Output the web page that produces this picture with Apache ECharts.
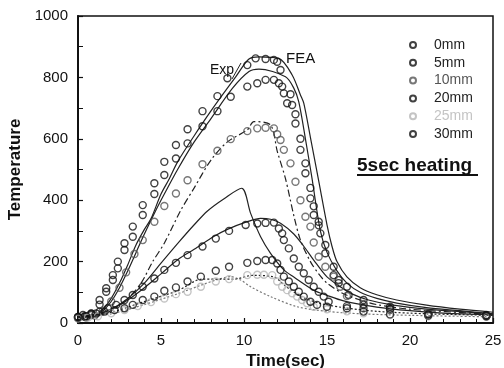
<!DOCTYPE html>
<html>
<head>
<meta charset="utf-8">
<script src="https://cdn.jsdelivr.net/npm/echarts@6/dist/echarts.min.js"></script>
<style>
  html, body { margin: 0; padding: 0; background: #fff; }
  #chart { width: 504px; height: 368px; }
</style>
</head>
<body>
<div id="chart"></div>
<script>
// measured points, [time (sec), temperature]
const exp0mm = [[0, 20], [0.4, 22], [0.8, 30], [1.3, 75], [1.7, 113], [2.1, 156], [2.4, 200], [2.8, 260], [3.3, 314], [3.9, 384], [4.6, 455], [5.2, 525], [5.9, 580], [6.6, 631], [7.5, 690], [8.4, 739], [9.0, 797], [10.2, 840], [10.7, 862], [11.3, 860], [11.8, 857], [12.0, 851], [12.2, 824], [12.8, 745], [13.1, 680], [13.4, 600], [13.7, 520], [14.0, 440], [14.2, 380], [14.5, 330], [14.9, 254], [15.4, 183], [15.7, 140], [16.2, 118], [17.2, 75], [18.8, 53], [21.1, 30], [24.6, 26]]
const exp5mm = [[0, 18], [0.4, 20], [0.8, 26], [1.3, 60], [1.7, 102], [2.1, 140], [2.4, 178], [2.8, 238], [3.3, 281], [3.9, 352], [4.6, 420], [5.2, 482], [5.9, 536], [6.6, 585], [7.5, 641], [8.4, 690], [9.2, 737], [10.2, 770], [10.8, 781], [11.3, 792], [11.8, 792], [12.1, 781], [12.3, 770], [12.4, 748], [12.6, 716], [12.9, 710], [13.1, 650], [13.4, 564], [13.7, 488], [14.0, 406], [14.2, 352], [14.5, 318], [14.6, 292], [14.9, 227], [15.4, 156], [15.7, 130], [16.3, 91], [17.2, 60], [18.8, 45], [21.1, 28], [24.6, 24]]
const exp10mm = [[0, 15], [0.5, 18], [1.0, 24], [1.5, 40], [2.0, 70], [2.5, 115], [2.9, 165], [3.4, 225], [3.9, 270], [4.6, 330], [5.2, 381], [5.9, 422], [6.6, 465], [7.5, 517], [8.4, 561], [9.2, 599], [10.2, 625], [10.8, 634], [11.3, 636], [11.8, 634], [12.0, 615], [12.2, 596], [12.4, 564], [12.8, 520], [13.1, 460], [13.4, 400], [13.7, 346], [14.0, 314], [14.2, 262], [14.5, 216], [14.9, 183], [15.4, 151], [15.8, 118], [16.2, 88], [17.2, 62], [18.8, 42], [21.1, 30], [24.6, 22]]
const exp20mm = [[0, 20], [0.3, 26], [0.8, 31], [1.3, 37], [1.8, 48], [2.3, 59], [2.8, 75], [3.3, 91], [3.9, 118], [4.6, 145], [5.2, 173], [5.9, 196], [6.6, 221], [7.5, 249], [8.3, 275], [9.1, 300], [10.1, 319], [10.8, 324], [11.3, 326], [11.8, 327], [12.1, 308], [12.3, 292], [12.4, 270], [12.7, 243], [13.0, 210], [13.3, 183], [13.6, 162], [13.9, 140], [14.2, 118], [14.5, 102], [14.8, 86], [15.1, 69], [16.2, 55], [17.2, 48], [18.8, 46], [21.1, 28], [24.6, 23]]
const exp25mm = [[0, 15], [0.6, 18], [1.2, 22], [2.0, 32], [2.8, 42], [3.6, 55], [4.4, 68], [5.2, 80], [5.9, 94], [6.6, 102], [7.4, 118], [8.3, 135], [9.1, 143], [10.2, 156], [10.8, 157], [11.2, 157], [11.7, 156], [12.0, 135], [12.3, 118], [12.6, 107], [12.9, 97], [13.2, 86], [13.5, 75], [13.8, 64], [14.2, 53], [15.0, 45], [16.2, 38], [17.2, 32], [18.8, 26], [21.1, 22], [24.6, 20]]
const exp30mm = [[0, 18], [0.5, 22], [1.1, 31], [1.6, 37], [2.2, 42], [2.8, 48], [3.3, 59], [3.9, 75], [4.6, 86], [5.2, 105], [5.9, 116], [6.6, 135], [7.4, 151], [8.3, 170], [9.1, 183], [10.2, 196], [10.8, 202], [11.3, 205], [11.7, 205], [12.0, 194], [12.2, 173], [12.4, 151], [12.7, 135], [13.0, 118], [13.3, 102], [13.6, 86], [14.0, 69], [14.4, 59], [15.0, 53], [16.2, 48], [17.2, 37], [18.8, 28], [21.1, 24], [24.6, 22]]

// FEA curves
const fea0mm = [[0, 20], [1, 28], [1.5, 45], [2, 80], [2.5, 130], [3, 190], [3.5, 255], [4, 305], [4.4, 340], [5, 420], [5.5, 470], [6, 525], [7, 610], [8, 690], [8.7, 743], [9.5, 802], [10.3, 860], [10.9, 867], [12.1, 862], [12.9, 808], [13.4, 743], [13.6, 716], [14.0, 605], [14.5, 463], [15.0, 320], [15.3, 250], [15.6, 200], [16.2, 150], [17.0, 115], [18, 92], [19.2, 75], [21, 58], [23, 45], [25, 35]]
const fea5mm = [[0, 20], [1, 26], [1.5, 40], [2, 70], [2.5, 115], [3, 170], [3.5, 230], [4, 290], [4.7, 368], [5.2, 420], [6, 500], [7, 590], [8, 665], [9.3, 764], [10.3, 819], [10.9, 827], [12.5, 802], [13.0, 765], [13.3, 720], [13.7, 600], [14.1, 470], [14.6, 300], [15.0, 230], [15.6, 170], [16.2, 130], [17, 100], [18, 80], [19.2, 65], [21, 50], [23, 40], [25, 30]]
const fea10mm = [[0, 18], [1, 22], [2, 40], [3, 80], [3.8, 130], [4.5, 200], [5.2, 260], [6.2, 368], [7, 440], [8, 530], [9, 590], [10.2, 629], [10.6, 656], [11.6, 645], [12.0, 560], [12.5, 470], [13.0, 350], [13.4, 270], [14, 200], [14.5, 160], [15, 130], [16, 95], [17, 75], [18, 60], [20, 45], [25, 28]]
const fea20mm = [[0, 20], [1, 28], [2, 45], [3, 75], [4, 115], [5, 160], [6.1, 210], [7, 240], [8.15, 281], [9, 305], [10.2, 330], [11, 341], [11.6, 338], [12.2, 325], [13, 290], [13.6, 250], [14.2, 205], [15, 150], [15.8, 118], [16.5, 95], [17.5, 75], [19, 58], [21, 45], [25, 30]]
const fea25mm = [[0, 15], [2, 30], [4, 60], [6, 95], [7.5, 125], [8.5, 143], [9.2, 151], [9.8, 140], [10.4, 118], [11.6, 86], [13.2, 53], [15, 38], [17, 30], [20, 25], [25, 20]]
const fea30mm = [[0, 18], [2, 35], [4, 70], [6, 105], [7.5, 143], [9.4, 143], [10.5, 155], [11.8, 150], [12.5, 120], [13.5, 85], [14.5, 65], [16, 50], [18, 38], [21, 30], [25, 25]]
// the sharp-peaked solid curve
const feaPeak = [[0, 18], [1, 24], [2, 45], [3, 80], [4, 130], [5, 195], [6.1, 265], [7, 320], [7.8, 365], [8.8, 405], [9.86, 439], [10.4, 357], [11.0, 281], [11.6, 227], [12.4, 173], [13, 150], [14.2, 107], [15, 90], [16, 72], [18, 52], [20, 40], [22, 32], [25, 26]]

const depths = ['0mm', '5mm', '10mm', '20mm', '25mm', '30mm']
const expData = [exp0mm, exp5mm, exp10mm, exp20mm, exp25mm, exp30mm]
const expColors = ['#111', '#111', '#555', '#111', '#b5b5b5', '#111']
const feaData = [fea0mm, fea5mm, fea10mm, fea20mm, fea25mm, fea30mm, feaPeak]
const feaStyles = ['solid', 'solid', [7, 3, 2, 3], 'solid', [2, 2], [2, 2], 'solid']

const font = 'Liberation Sans, Arial, sans-serif'
const chart = echarts.init(document.getElementById('chart'))

const series = []
feaData.forEach((d, i) => {
  series.push({
    name: 'FEA ' + i,
    type: 'line',
    data: d,
    showSymbol: false,
    smooth: 0.3,
    z: 1,
    lineStyle: { color: i === 4 ? '#777' : '#222', width: 1.2, type: feaStyles[i] }
  })
})
expData.forEach((d, i) => {
  series.push({
    name: depths[i],
    type: 'scatter',
    data: d,
    symbol: 'circle',
    symbolSize: 7,
    z: 3,
    itemStyle: { color: 'rgba(255,255,255,0)', borderColor: expColors[i], borderWidth: 1.4 }
  })
})

chart.setOption({
  animation: false,
  backgroundColor: '#fff',
  grid: {
    left: 78, right: 11, top: 16, bottom: 45,
    outerBoundsMode: 'none',
    show: true, borderColor: '#111', borderWidth: 1.5
  },
  legend: {
    orient: 'vertical',
    left: 404,
    top: 33,
    itemWidth: 6,
    itemHeight: 6,
    itemGap: 3.8,
    icon: 'circle',
    textStyle: { fontFamily: font, fontSize: 14, color: '#222', lineHeight: 14, padding: [0, 0, 0, 13] },
    data: depths.map((d, i) => ({
      name: d,
      textStyle: { color: i === 4 ? '#c4c4c4' : (i === 2 ? '#555' : '#222') }
    }))
  },
  xAxis: {
    type: 'value',
    min: 0,
    max: 25,
    interval: 5,
    name: 'Time(sec)',
    nameLocation: 'middle',
    nameGap: 26,
    nameTextStyle: { fontFamily: font, fontSize: 17, fontWeight: 'bold', color: '#111' },
    axisLine: { lineStyle: { color: '#111', width: 2 } },
    axisTick: { inside: true, length: 5, lineStyle: { color: '#111', width: 1.2 } },
    minorTick: { show: true, splitNumber: 5, length: 4, lineStyle: { color: '#111', width: 1 } },
    axisLabel: { fontFamily: font, fontSize: 15, color: '#111', margin: 10 },
    splitLine: { show: false }
  },
  yAxis: {
    type: 'value',
    min: 0,
    max: 1000,
    interval: 200,
    name: 'Temperature',
    nameLocation: 'middle',
    nameGap: 45,
    nameTextStyle: { fontFamily: font, fontSize: 17, fontWeight: 'bold', color: '#111' },
    axisLine: { show: true, lineStyle: { color: '#111', width: 2 } },
    axisTick: { show: true, inside: true, length: 5, lineStyle: { color: '#111', width: 1.2 } },
    minorTick: { show: true, splitNumber: 2, length: 5, lineStyle: { color: '#111', width: 1 } },
    axisLabel: { fontFamily: font, fontSize: 15, color: '#111', margin: 10, formatter: v => String(v) },
    splitLine: { show: false }
  },
  graphic: [
    { type: 'text', left: 210, top: 63, style: { text: 'Exp', font: '14px ' + font, fill: '#111' } },
    { type: 'line', shape: { x1: 232, y1: 79, x2: 241, y2: 63 }, style: { stroke: '#222', lineWidth: 1 } },
    { type: 'text', left: 286, top: 51, style: { text: 'FEA', font: '15px ' + font, fill: '#111' } },
    { type: 'text', left: 357, top: 156, style: { text: '5sec heating', font: 'bold 19px ' + font, fill: '#111' } },
    { type: 'rect', shape: { x: 357, y: 174, width: 121, height: 2 }, style: { fill: '#111' } }
  ],
  series: series
})
</script>
</body>
</html>
